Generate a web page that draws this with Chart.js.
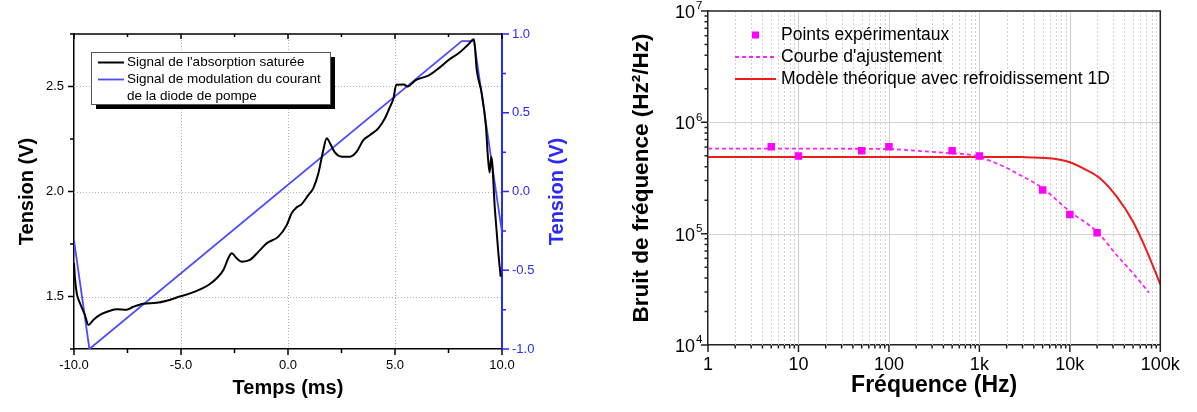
<!DOCTYPE html>
<html>
<head>
<meta charset="utf-8">
<script src="https://cdn.jsdelivr.net/npm/chart.js@4.4.1/dist/chart.umd.min.js"></script>
<style>
  body { margin: 0; background: #fff; }
  #wrap { position: relative; width: 1197px; height: 412px; }
  canvas { position: absolute; top: 0; }
  #absChart { left: 0; }
  #noiseChart { left: 598px; }
</style>
</head>
<body>
<div id="wrap">
  <canvas id="absChart" width="598" height="412"></canvas>
  <canvas id="noiseChart" width="599" height="412"></canvas>
</div>
<script>
// left panel : saturated absorption + pump current ramp
const timeMs = [-10.0, -9.95, -9.87, -9.72, -9.49, -9.33, -9.10, -8.79, -8.32, -8.00, -7.54, -7.23, -6.76, -6.14, -5.67, -5.05, -4.58, -4.11, -3.70, -3.33, -3.02, -2.79, -2.63, -2.40, -2.16, -1.78, -1.31, -1.00, -0.45, -0.06, 0.17, 0.41, 0.64, 0.95, 1.18, 1.42, 1.65, 1.81, 1.96, 2.20, 2.51, 2.90, 3.21, 3.52, 3.83, 4.22, 4.53, 4.77, 4.92, 5.06, 5.42, 5.58, 5.97, 6.60, 7.08, 7.55, 8.03, 8.42, 8.69, 8.82, 9.05, 9.25, 9.33, 9.42, 9.50, 9.67, 9.83, 9.94];
const absorptionV = [1.66, 1.58, 1.515, 1.468, 1.412, 1.364, 1.388, 1.412, 1.432, 1.439, 1.437, 1.451, 1.466, 1.470, 1.480, 1.500, 1.515, 1.534, 1.556, 1.587, 1.626, 1.682, 1.706, 1.682, 1.666, 1.674, 1.721, 1.753, 1.785, 1.840, 1.896, 1.925, 1.940, 1.983, 2.015, 2.087, 2.198, 2.253, 2.230, 2.185, 2.166, 2.166, 2.190, 2.245, 2.269, 2.301, 2.349, 2.404, 2.440, 2.508, 2.510, 2.500, 2.530, 2.554, 2.590, 2.630, 2.663, 2.700, 2.725, 2.579, 2.468, 2.309, 2.182, 2.090, 2.165, 1.912, 1.706, 1.594];
const rampMs = [-10.0, -9.28, 8.12, 8.69, 10.0];
const rampV = [-0.31, -1.0, 0.955, 0.955, -0.26];

// right panel : frequency noise
const freqPts = [5, 10, 50, 100, 500, 1000, 5000, 10000, 20000];
const noisePts = [6.05e5, 4.99e5, 5.57e5, 6.05e5, 5.57e5, 4.99e5, 2.47e5, 1.49e5, 1.02e5];
const fitFreq = [1, 10, 100, 200, 500, 850, 1700, 2800, 5000, 10000, 20000, 33000, 50000, 75000];
const fitNoise = [5.8e5, 5.8e5, 5.75e5, 5.55e5, 5.27e5, 5.06e5, 4.14e5, 3.37e5, 2.56e5, 1.58e5, 1.04e5, 6.4e4, 4.4e4, 2.95e4];
const theoryFreq = [1, 1000, 3000, 6000, 10000, 15300, 21500, 33000, 50000, 70000, 100000];
const theoryNoise = [4.89e5, 4.89e5, 4.87e5, 4.75e5, 4.38e5, 3.73e5, 3.15e5, 2.15e5, 1.28e5, 7.15e4, 3.5e4];

const freqTickValues = [1, 10, 100, 1000, 10000, 100000];
const freqTickText = ['1', '10', '100', '1k', '10k', '100k'];
const noiseTickValues = [1e4, 1e5, 1e6, 1e7];
const noiseTickExp = ['4', '5', '6', '7'];

const blueLine = '#4b4bff';
const blueAxis = '#2a2aff';
const family = "Arial, 'Liberation Sans', sans-serif";

Chart.defaults.font.family = family;
Chart.defaults.color = '#000';

function isStep(v, step) {
  return Math.abs(v / step - Math.round(v / step)) < 1e-6;
}

function pairs(xs, ys) {
  return xs.map((x, i) => ({ x: x, y: ys[i] }));
}

function findTick(values, v) {
  return values.findIndex(t => Math.abs(t - v) < t * 1e-6);
}

// fixed axis box sizes so the plot area lands where the original one is
function fixBox(w, h) {
  return s => {
    if (w !== null) s.width = w;
    if (h !== null) s.height = h;
    s.paddingTop = 0;
    s.paddingBottom = 0;
    s.paddingLeft = 0;
    s.paddingRight = 0;
  };
}

const absFrame = {
  id: 'absFrame',
  beforeDatasetsDraw(chart) {
    const { ctx, chartArea: a, scales: { x, y } } = chart;
    ctx.save();
    ctx.strokeStyle = '#b4b4b4';
    ctx.lineWidth = 1;
    ctx.setLineDash([1, 2]);
    ctx.beginPath();
    x.ticks.forEach(t => {
      if (!isStep(t.value, 5) || t.value <= x.min || t.value >= x.max) return;
      const p = Math.round(x.getPixelForValue(t.value)) + 0.5;
      ctx.moveTo(p, a.top);
      ctx.lineTo(p, a.bottom);
    });
    y.ticks.forEach(t => {
      if (!isStep(t.value, 0.5) || t.value <= y.min || t.value >= y.max) return;
      const p = Math.round(y.getPixelForValue(t.value)) + 0.5;
      ctx.moveTo(a.left, p);
      ctx.lineTo(a.right, p);
    });
    ctx.stroke();
    ctx.restore();
  },
  afterDraw(chart) {
    const { ctx, chartArea: a, scales: { x, y, y2 } } = chart;
    ctx.save();
    ctx.lineWidth = 1.5;
    ctx.strokeStyle = '#000';
    ctx.beginPath();
    ctx.moveTo(a.left, a.top);
    ctx.lineTo(a.right, a.top);
    x.ticks.forEach(t => {
      const p = x.getPixelForValue(t.value);
      const major = isStep(t.value, 5);
      ctx.moveTo(p, a.bottom);
      ctx.lineTo(p, a.bottom + (major ? 6 : 4));
      ctx.moveTo(p, a.top);
      ctx.lineTo(p, a.top + (major ? 5 : 3));
    });
    y.ticks.forEach(t => {
      const p = y.getPixelForValue(t.value);
      ctx.moveTo(a.left, p);
      ctx.lineTo(a.left - (isStep(t.value, 0.5) ? 6 : 4), p);
    });
    ctx.stroke();
    ctx.strokeStyle = blueAxis;
    ctx.beginPath();
    y2.ticks.forEach(t => {
      const p = y2.getPixelForValue(t.value);
      ctx.moveTo(a.right, p);
      ctx.lineTo(a.right + (isStep(t.value, 0.5) ? 7 : 4), p);
    });
    ctx.stroke();

    // right axis title reads bottom-to-top like the left one
    const title = y2.options.title;
    ctx.translate(557, (a.top + a.bottom) / 2);
    ctx.rotate(-Math.PI / 2);
    ctx.font = 'bold 20px ' + family;
    ctx.fillStyle = title.color;
    ctx.textAlign = 'center';
    ctx.textBaseline = 'middle';
    ctx.fillText(title.text, 0, 0);
    ctx.restore();
  }
};

const absLegend = {
  id: 'absLegend',
  afterDatasetsDraw(chart) {
    const ctx = chart.ctx;
    const sets = chart.data.datasets;
    const bx = 91, by = 52, bw = 239, bh = 52;
    ctx.save();
    ctx.fillStyle = '#000';
    ctx.fillRect(bx + 5, by + 5, bw, bh);
    ctx.fillStyle = '#fff';
    ctx.fillRect(bx, by, bw, bh);
    ctx.strokeStyle = '#555';
    ctx.lineWidth = 1;
    ctx.strokeRect(bx + 0.5, by + 0.5, bw, bh);
    ctx.font = '13.5px ' + family;
    ctx.textBaseline = 'middle';
    let row = 62.5;
    sets.forEach(ds => {
      ctx.strokeStyle = ds.borderColor;
      ctx.lineWidth = ds.borderWidth;
      ctx.beginPath();
      ctx.moveTo(98, row);
      ctx.lineTo(124, row);
      ctx.stroke();
      ctx.fillStyle = '#000';
      ds.label.split('\n').forEach(line => {
        ctx.fillText(line, 127, row);
        row += 17;
      });
    });
    ctx.restore();
  }
};

new Chart(document.getElementById('absChart'), {
  type: 'line',
  data: {
    datasets: [{
      label: "Signal de l'absorption saturée",
      data: pairs(timeMs, absorptionV),
      borderColor: '#000',
      borderWidth: 2,
      pointRadius: 0,
      cubicInterpolationMode: 'monotone',
      yAxisID: 'y'
    }, {
      label: 'Signal de modulation du courant\nde la diode de pompe',
      data: pairs(rampMs, rampV),
      borderColor: blueLine,
      borderWidth: 1.8,
      pointRadius: 0,
      tension: 0,
      yAxisID: 'y2'
    }]
  },
  options: {
    responsive: false,
    animation: false,
    events: [],
    layout: { padding: { top: 34, left: 0, right: 0, bottom: 0 } },
    plugins: { legend: { display: false }, tooltip: { enabled: false } },
    scales: {
      x: {
        type: 'linear',
        min: -10,
        max: 10,
        ticks: {
          stepSize: 2.5,
          autoSkip: false,
          maxRotation: 0,
          padding: 9,
          font: { size: 13 },
          callback: v => isStep(v, 5) ? v.toFixed(1) : ''
        },
        grid: { display: false, drawTicks: false },
        border: { color: '#000', width: 1.5 },
        title: { display: true, text: 'Temps (ms)', font: { size: 20, weight: 'bold' }, padding: { top: 0, bottom: 12 } },
        afterFit: fixBox(null, 63)
      },
      y: {
        position: 'left',
        min: 1.25,
        max: 2.75,
        ticks: {
          stepSize: 0.25,
          autoSkip: false,
          padding: 10,
          font: { size: 13 },
          callback: v => isStep(v, 0.5) ? v.toFixed(1) : ''
        },
        grid: { display: false, drawTicks: false },
        border: { color: '#000', width: 1.5 },
        title: { display: true, text: 'Tension (V)', font: { size: 20, weight: 'bold' }, padding: { top: 15, bottom: 0 } },
        afterFit: fixBox(74, null)
      },
      y2: {
        position: 'right',
        min: -1,
        max: 1,
        ticks: {
          stepSize: 0.25,
          autoSkip: false,
          padding: 10,
          color: blueAxis,
          font: { size: 13 },
          callback: v => isStep(v, 0.5) ? v.toFixed(1) : ''
        },
        grid: { display: false, drawTicks: false },
        border: { color: blueAxis, width: 2 },
        title: { display: false, text: 'Tension (V)', color: blueAxis },
        afterFit: fixBox(96, null)
      }
    }
  },
  plugins: [absFrame, absLegend]
});

const noiseFrame = {
  id: 'noiseFrame',
  beforeDatasetsDraw(chart) {
    const { ctx, chartArea: a, scales: { x, y } } = chart;
    ctx.save();
    ctx.lineWidth = 1;
    ctx.strokeStyle = '#d4d4d4';
    ctx.setLineDash([2, 2]);
    ctx.beginPath();
    for (let d = x.min; d < x.max; d *= 10) {
      for (let k = 2; k <= 9; k++) {
        const p = Math.round(x.getPixelForValue(k * d)) + 0.5;
        ctx.moveTo(p, a.top);
        ctx.lineTo(p, a.bottom);
      }
    }
    ctx.stroke();
    ctx.setLineDash([]);
    ctx.strokeStyle = '#d2d2d2';
    ctx.beginPath();
    for (let d = x.min * 10; d < x.max; d *= 10) {
      const p = Math.round(x.getPixelForValue(d)) + 0.5;
      ctx.moveTo(p, a.top);
      ctx.lineTo(p, a.bottom);
    }
    for (let d = y.min * 10; d < y.max; d *= 10) {
      const p = Math.round(y.getPixelForValue(d)) + 0.5;
      ctx.moveTo(a.left, p);
      ctx.lineTo(a.right, p);
    }
    ctx.stroke();
    ctx.restore();
  },
  afterDraw(chart) {
    const { ctx, chartArea: a, scales: { x, y } } = chart;
    ctx.save();
    ctx.strokeStyle = '#222';
    ctx.lineWidth = 1.5;
    ctx.beginPath();
    ctx.moveTo(a.left, a.top);
    ctx.lineTo(a.right, a.top);
    ctx.lineTo(a.right, a.bottom);
    for (let d = x.min; d <= x.max; d *= 10) {
      for (let k = 1; k <= 9; k++) {
        if (k * d > x.max) break;
        const p = x.getPixelForValue(k * d);
        ctx.moveTo(p, a.bottom);
        ctx.lineTo(p, a.bottom + (k === 1 ? 7 : 3.5));
      }
    }
    for (let d = y.min; d <= y.max; d *= 10) {
      for (let k = 1; k <= 9; k++) {
        if (k * d > y.max) break;
        const p = y.getPixelForValue(k * d);
        ctx.moveTo(a.left, p);
        ctx.lineTo(a.left - (k === 1 ? 7 : 3.5), p);
      }
    }
    ctx.stroke();

    // exponents of the 10^n tick labels
    ctx.font = '11.5px ' + family;
    ctx.fillStyle = '#000';
    ctx.textAlign = 'left';
    ctx.textBaseline = 'middle';
    y.ticks.forEach(t => {
      const i = findTick(noiseTickValues, t.value);
      if (i < 0) return;
      ctx.fillText(noiseTickExp[i], a.left - 12, y.getPixelForValue(t.value) - 5);
    });
    ctx.restore();
  }
};

const noiseLegend = {
  id: 'noiseLegend',
  afterDatasetsDraw(chart) {
    const ctx = chart.ctx;
    const sets = chart.data.datasets;
    ctx.save();
    ctx.font = '17.5px ' + family;
    ctx.textBaseline = 'middle';
    sets.forEach((ds, i) => {
      const row = 35 + i * 22;
      if (ds.showLine === false) {
        ctx.fillStyle = ds.backgroundColor;
        ctx.fillRect(154, row - 3.5, 7, 7);
      } else {
        ctx.strokeStyle = ds.borderColor;
        ctx.lineWidth = ds.borderWidth;
        ctx.setLineDash(ds.borderDash || []);
        ctx.beginPath();
        ctx.moveTo(137, row);
        ctx.lineTo(178, row);
        ctx.stroke();
        ctx.setLineDash([]);
      }
      ctx.fillStyle = '#000';
      ctx.fillText(ds.label, 183, row);
    });
    ctx.restore();
  }
};

new Chart(document.getElementById('noiseChart'), {
  type: 'line',
  data: {
    datasets: [{
      label: 'Points expérimentaux',
      data: pairs(freqPts, noisePts),
      showLine: false,
      pointStyle: 'rect',
      pointRadius: 5.3,
      pointBorderWidth: 0,
      backgroundColor: '#ff00ff',
      borderColor: '#ff00ff'
    }, {
      label: "Courbe d'ajustement",
      data: pairs(fitFreq, fitNoise),
      borderColor: '#ff22ff',
      borderWidth: 1.8,
      borderDash: [4, 3],
      pointRadius: 0,
      cubicInterpolationMode: 'monotone'
    }, {
      label: 'Modèle théorique avec refroidissement 1D',
      data: pairs(theoryFreq, theoryNoise),
      borderColor: '#f01c1c',
      borderWidth: 2,
      pointRadius: 0,
      cubicInterpolationMode: 'monotone'
    }]
  },
  options: {
    responsive: false,
    animation: false,
    events: [],
    layout: { padding: { top: 11, left: 0, right: 36.7, bottom: 0 } },
    plugins: { legend: { display: false }, tooltip: { enabled: false } },
    scales: {
      x: {
        type: 'logarithmic',
        min: 1,
        max: 100000,
        ticks: {
          autoSkip: false,
          maxRotation: 0,
          padding: 9,
          font: { size: 18 },
          callback: v => {
            const i = findTick(freqTickValues, v);
            return i < 0 ? '' : freqTickText[i];
          }
        },
        grid: { display: false, drawTicks: false },
        border: { color: '#222', width: 1.5 },
        title: { display: true, text: 'Fréquence (Hz)', font: { size: 23, weight: 'bold' }, padding: { top: 0, bottom: 13 } },
        afterFit: fixBox(null, 67)
      },
      y: {
        type: 'logarithmic',
        min: 1e4,
        max: 1e7,
        ticks: {
          autoSkip: false,
          padding: 13,
          labelOffset: 2,
          font: { size: 18 },
          callback: v => findTick(noiseTickValues, v) < 0 ? '' : '10'
        },
        grid: { display: false, drawTicks: false },
        border: { color: '#222', width: 1.5 },
        title: { display: true, text: 'Bruit de fréquence (Hz²/Hz)', font: { size: 22.5, weight: 'bold' }, padding: { top: 30, bottom: 0 } },
        afterFit: fixBox(110, null)
      }
    }
  },
  plugins: [noiseFrame, noiseLegend]
});
</script>
</body>
</html>
